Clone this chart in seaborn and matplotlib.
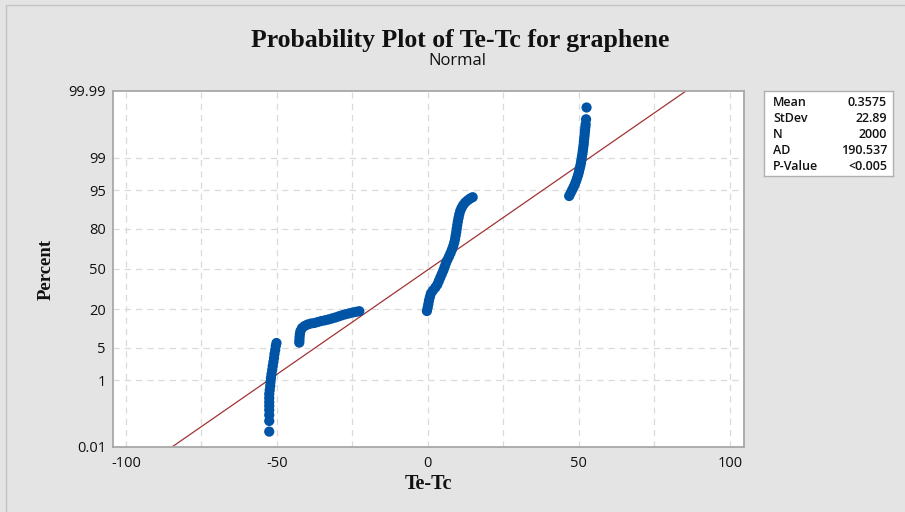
import matplotlib
matplotlib.use("Agg")
import matplotlib.pyplot as plt
from matplotlib.lines import Line2D
import numpy as np
import pandas as pd
import seaborn as sns
from statistics import NormalDist

# Sorted Te-Tc values with their plotting positions (percent), four groups
grp1_x = [-52.55, -52.55, -52.55, -52.55, -52.55, -52.55, -52.55, -52.55, -52.39, -52.22,
          -52.13, -51.99, -51.80, -51.57, -51.40, -51.17, -50.97, -50.81, -50.58, -50.38, -50.15]
grp1_pct = [0.034, 0.075, 0.114, 0.161, 0.21, 0.27, 0.35, 0.45, 0.57, 0.73,
            0.91, 1.14, 1.41, 1.74, 2.13, 2.6, 3.15, 3.79, 4.53, 5.38, 6.1]

grp2_x = [-42.60, -42.55, -42.50, -42.40, -42.20, -41.68, -40.86, -39.87, -38.72, -37.56,
          -36.41, -35.26, -34.10, -32.95, -31.80, -30.64, -29.49, -28.34, -27.18, -26.03,
          -24.88, -23.72, -22.73]
grp2_pct = [6.2, 6.9, 7.77, 8.72, 9.76, 10.88, 11.68, 12.3, 12.74, 12.97,
            13.41, 13.87, 14.19, 14.57, 15.06, 15.55, 16.15, 16.72, 17.26, 17.73,
            18.17, 18.56, 18.9]

grp3_x = [-0.33, -0.07, 0.16, 0.36, 0.66, 0.99, 1.65, 2.47, 3.13, 3.62,
          4.12, 4.61, 5.11, 5.54, 5.93, 6.43, 6.99, 7.51, 7.97, 8.40,
          8.73, 9.00, 9.19, 9.39, 9.56, 9.72, 9.92, 10.15, 10.38, 10.71,
          11.14, 11.70, 12.36, 13.18, 14.00, 14.83]
grp3_pct = [19.01, 21.06, 23.23, 25.52, 27.93, 30.44, 32.66, 34.96, 37.3, 40.1,
            42.95, 45.84, 48.75, 51.67, 54.57, 57.46, 60.3, 63.09, 65.81, 68.46,
            71.01, 73.46, 75.8, 78.02, 80.13, 82.1, 83.95, 85.67, 87.26, 88.72,
            89.88, 90.94, 91.77, 92.44, 92.96, 93.32]

grp4_x = [46.79, 47.28, 47.78, 48.27, 48.70, 49.09, 49.42, 49.75, 50.02, 50.25,
          50.48, 50.68, 50.84, 51.00, 51.17, 51.30, 51.43, 51.57, 51.66, 51.76,
          51.86, 51.96, 52.06, 52.16, 52.26, 52.39, 52.55]
grp4_pct = [93.64, 94.38, 95.06, 95.67, 96.21, 96.70, 97.14, 97.52, 97.87, 98.17,
            98.43, 98.66, 98.86, 99.036, 99.186, 99.316, 99.427, 99.521, 99.602, 99.670,
            99.727, 99.775, 99.816, 99.850, 99.877, 99.912, 99.963]

# Summary statistics of the sample
mean_val = 0.3575
stdev_val = 22.89
n_obs = 2000
ad_val = 190.537
p_value_text = "<0.005"

x_ticks = [-100, -50, 0, 50, 100]
x_grid = [-100, -75, -50, -25, 0, 25, 50, 75, 100]
pct_ticks = [0.01, 1, 5, 20, 50, 80, 95, 99, 99.99]
pct_labels = ["0.01", "1", "5", "20", "50", "80", "95", "99", "99.99"]

nd = NormalDist()


def normal_score(pct):
    return nd.inv_cdf(pct / 100.0)


values = grp1_x + grp2_x + grp3_x + grp4_x
percents = grp1_pct + grp2_pct + grp3_pct + grp4_pct
df = pd.DataFrame({"Te-Tc": values, "Percent": percents})
df["score"] = [normal_score(p) for p in df["Percent"]]

z_lo = normal_score(pct_ticks[0])
z_hi = normal_score(pct_ticks[-1])
fit = pd.DataFrame({"score": [z_lo, z_hi]})
fit["Te-Tc"] = mean_val + stdev_val * fit["score"]

sns.set_theme(style="white")
plt.rcParams["font.family"] = ["Open Sans", "DejaVu Sans"]

bg = "#e4e4e4"
fig = plt.figure(figsize=(9.05, 5.12), dpi=100, facecolor=bg)
ax = fig.add_axes([113 / 905, 1 - 447 / 512, 631 / 905, 356 / 512])
ax.set_facecolor("white")

# reference grid
for gx in x_grid:
    ax.axvline(gx, color="#dadada", lw=0.9, ls=(0, (5, 4)), zorder=0)
for p in pct_ticks[1:-1]:
    ax.axhline(normal_score(p), color="#dadada", lw=0.9, ls=(0, (5, 4)), zorder=0)

# fitted normal line
sns.lineplot(data=fit, x="Te-Tc", y="score", color="#a23333", lw=0.9,
             ax=ax, zorder=2, sort=False)

# sample points
sns.scatterplot(data=df, x="Te-Tc", y="score", color="#0054a6", s=54,
                edgecolor="none", linewidth=0, ax=ax, zorder=3)

ax.set_xlim(-104.3, 104.7)
ax.set_ylim(z_lo, z_hi)
ax.set_xticks(x_ticks)
ax.set_xticklabels([str(v) for v in x_ticks])
ax.set_yticks([normal_score(p) for p in pct_ticks])
ax.set_yticklabels(pct_labels)
ax.tick_params(axis="both", which="major", labelsize=10.5, colors="#a0a0a0",
               labelcolor="#111111", direction="out", length=3.6, width=0.9)
ax.tick_params(axis="y", pad=1.5)
ax.tick_params(axis="x", pad=3)
ax.grid(False)
for sp in ax.spines.values():
    sp.set_color("#a8a8a8")
    sp.set_linewidth(1.3)

serif_bold = dict(family=["Liberation Serif", "DejaVu Serif"], weight="bold")
ax.set_xlabel("Te-Tc", fontsize=14.5, color="#111111", **serif_bold)
ax.xaxis.set_label_coords(0.5, -0.075)
ax.set_ylabel("Percent", fontsize=13.5, color="#111111", **serif_bold)
ax.yaxis.set_label_coords(-0.093, 0.5)

fig.text(460 / 905, 1 - 46.5 / 512, "Probability Plot of Te-Tc for graphene",
         ha="center", va="baseline", fontsize=18.5, color="#111111", **serif_bold)
fig.text(457 / 905, 1 - 65 / 512, "Normal", ha="center", va="baseline",
         fontsize=12, color="#111111", weight="medium")

# statistics box
box = fig.add_axes([764 / 905, 1 - 176 / 512, 129 / 905, 85 / 512])
box.set_facecolor("white")
box.set_xticks([])
box.set_yticks([])
for sp in box.spines.values():
    sp.set_color("#b0b0b0")
    sp.set_linewidth(1.0)
box.set_xlim(0, 129)
box.set_ylim(85, 0)
rows = [("Mean", f"{mean_val}"), ("StDev", f"{stdev_val}"), ("N", f"{n_obs}"),
        ("AD", f"{ad_val}"), ("P-Value", p_value_text)]
for i, (name, val) in enumerate(rows):
    yy = 11.5 + 16 * i
    box.text(9, yy, name, ha="left", va="center", fontsize=9,
             color="#111111", weight="semibold")
    box.text(123, yy, val, ha="right", va="center", fontsize=9,
             color="#111111", weight="semibold")

# outer frame of the graph window
fig.add_artist(Line2D([6 / 905, 6 / 905], [0, 1 - 5 / 512], transform=fig.transFigure,
                      color="#c4c4c4", lw=1.0))
fig.add_artist(Line2D([6 / 905, 1], [1 - 5 / 512, 1 - 5 / 512], transform=fig.transFigure,
                      color="#c4c4c4", lw=1.0))

fig.savefig("out.png", dpi=100, facecolor=bg)
